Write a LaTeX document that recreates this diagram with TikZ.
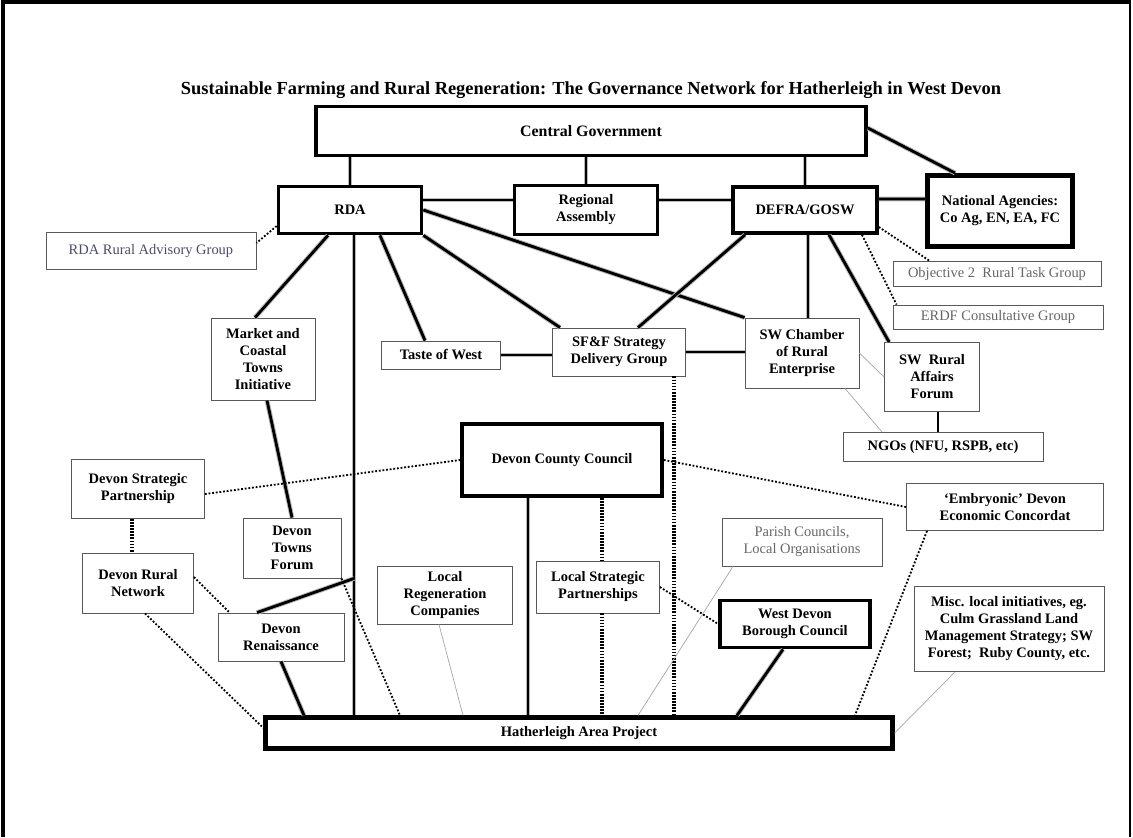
\documentclass[tikz,border=0pt]{standalone}
\usepackage{fontspec}
\setmainfont{Liberation Serif}
\usepackage{xcolor}
\usepackage{tikz}
\usetikzlibrary{positioning}

\definecolor{softtext}{rgb}{0.30,0.30,0.40}
\definecolor{greytext}{rgb}{0.40,0.40,0.42}
\definecolor{boxline}{rgb}{0.35,0.35,0.35}

\begin{document}
\begin{tikzpicture}[
        node distance=2cm,
        % Node styles
        govbox/.style={rectangle, draw=black, line width=2.6pt, inner sep=2pt, align=center,
                       font=\fontsize{10.3}{12.1}\selectfont\bfseries},
        body/.style={rectangle, draw=boxline, line width=0.6pt, inner sep=2pt, align=center,
                     font=\fontsize{10.3}{12.1}\selectfont\bfseries},
        minor/.style={rectangle, draw=boxline, line width=0.6pt, inner sep=2pt, align=center,
                      text=softtext, font=\fontsize{10.3}{12.1}\selectfont},
        % Link styles
        strong/.style={line width=2pt, preaction={draw=gray!55, line width=3.4pt}},
        twin/.style={line width=1.3pt, preaction={draw=gray!55, line width=2.6pt}},
        faint/.style={draw=gray!70, line width=0.5pt},
        dotlink/.style={line width=1.3pt, dash pattern=on 1.3pt off 1.3pt},
        heavydots/.style={line width=2.6pt, dash pattern=on 1.2pt off 1pt}
    ]
        % Page frame
        \useasboundingbox (-14.775,-17.65) rectangle (13.55,3.275);
        \draw[line width=2.2pt] (-14.7,-17.65) -- (-14.7,3.225) -- (13.475,3.225);
        \draw[line width=0.9pt] (13.475,3.275) -- (13.475,-17.65);

        % National and regional level
        \node[govbox, minimum width=13.75cm, minimum height=1.225cm, font=\fontsize{11.3}{13}\selectfont\bfseries] (cg) {Central Government};
        \node[above of=cg, yshift=-0.975cm, font=\fontsize{13.1}{15}\selectfont\bfseries] (title) {Sustainable Farming and Rural Regeneration: The Governance Network for Hatherleigh in West Devon};
        \node[govbox, below of=cg, xshift=-6.025cm, yshift=0.025cm, minimum width=3.575cm, minimum height=1.175cm] (rda) {RDA};
        \node[govbox, right of=rda, xshift=3.9cm, minimum width=3.575cm, minimum height=1.225cm] (ra) {Regional\\Assembly};
        \node[govbox, right of=ra, xshift=3.475cm, minimum width=3.6cm, minimum height=1.15cm] (defra) {DEFRA/GOSW};
        \node[govbox, line width=3.5pt, right of=defra, xshift=2.875cm, yshift=-0.025cm, minimum width=3.625cm, minimum height=1.775cm] (natag) {National Agencies:\\Co Ag, EN, EA, FC};
        \node[minor, left of=rda, xshift=-2.975cm, yshift=-1.025cm, minimum width=5.25cm, minimum height=0.925cm] (ruraladv) {RDA Rural Advisory Group};
        \node[minor, text=greytext, below of=natag, xshift=-0.075cm, yshift=0.425cm, minimum width=5.2cm, minimum height=0.625cm] (obj2) {Objective 2\ \ Rural Task Group};
        \node[minor, text=greytext, below of=obj2, xshift=0.025cm, yshift=0.925cm, minimum width=5.25cm, minimum height=0.6cm] (erdf) {ERDF Consultative Group};

        % Delivery bodies
        \node[body, below of=rda, xshift=-2.175cm, yshift=-1.725cm, minimum width=2.6cm, minimum height=2.05cm] (mcti) {Market and\\Coastal\\Towns\\Initiative};
        \node[body, below of=rda, xshift=2.275cm, yshift=-1.625cm, minimum width=2.975cm, minimum height=0.7cm] (taste) {Taste of West};
        \node[body, right of=taste, xshift=2.45cm, yshift=0.075cm, minimum width=3.325cm, minimum height=1.2cm] (sff) {SF\&F Strategy\\Delivery Group};
        \node[body, right of=sff, xshift=2.575cm, yshift=-0.025cm, minimum width=2.85cm, minimum height=1.75cm] (chamber) {SW Chamber\\of Rural\\Enterprise};
        \node[body, right of=chamber, xshift=1.25cm, yshift=-0.6cm, minimum width=2.375cm, minimum height=1.725cm] (affairs) {SW\ \ Rural\\Affairs\\Forum};
        \node[body, below of=affairs, xshift=0.275cm, yshift=0.25cm, minimum width=5cm, minimum height=0.725cm] (ngo) {NGOs (NFU, RSPB, etc)};

        % County and local level
        \node[govbox, below of=sff, xshift=-1.425cm, yshift=-0.7cm, minimum width=5cm, minimum height=1.8cm] (dcc) {Devon County Council};
        \node[body, left of=dcc, xshift=-8.6cm, yshift=-0.725cm, minimum width=3.325cm, minimum height=1.475cm] (dsp) {Devon Strategic\\Partnership};
        \node[body, below of=dsp, yshift=-0.35cm, minimum width=2.775cm, minimum height=1.5cm] (drn) {Devon Rural\\Network};
        \node[body, below of=mcti, xshift=0.725cm, yshift=-2.725cm, minimum width=2.45cm, minimum height=1.5cm] (towns) {Devon\\Towns\\Forum};
        \node[body, below of=towns, xshift=-0.275cm, yshift=-0.225cm, minimum width=3.15cm, minimum height=1.2cm] (renaiss) {Devon\\Renaissance};
        \node[body, below of=dcc, xshift=-2.925cm, yshift=-1.375cm, minimum width=3.375cm, minimum height=1.45cm] (lrc) {Local\\Regeneration\\Companies};
        \node[body, below of=dcc, xshift=0.9cm, yshift=-1.175cm, minimum width=3.075cm, minimum height=1.3cm] (lsp) {Local Strategic\\Partnerships};
        \node[minor, text=greytext, below of=chamber, yshift=-2.725cm, minimum width=4cm, minimum height=1.2cm] (parish) {Parish Councils,\\Local Organisations};
        \node[govbox, below of=parish, xshift=-0.175cm, yshift=-0.05cm, minimum width=3.75cm, minimum height=1.175cm] (wdbc) {West Devon\\Borough Council};
        \node[body, below of=ngo, xshift=1.55cm, yshift=0.5cm, minimum width=4.925cm, minimum height=1.175cm] (embryo) {`Embryonic' Devon\\Economic Concordat};
        \node[body, below of=embryo, xshift=0.1cm, yshift=-1.05cm, minimum width=4.75cm, minimum height=2.125cm] (misc) {Misc. local initiatives, eg.\\Culm Grassland Land\\Management Strategy; SW\\Forest;\ \ Ruby County, etc.};
        \node[govbox, line width=3pt, below of=lsp, xshift=-0.475cm, yshift=-1.65cm, minimum width=15.675cm, minimum height=0.775cm] (hap) {Hatherleigh Area Project};

        % Links from central government
        \draw[strong] (rda.north |- cg.south) -- (rda.north);
        \draw[strong] (ra.north |- cg.south) -- (ra.north);
        \draw[strong] (defra.north |- cg.south) -- (defra.north);
        \draw[strong] ([yshift=0.075cm]cg.east) -- ([xshift=-1.125cm]natag.north);

        % Regional row
        \draw[strong] ([yshift=0.25cm]rda.east) -- ([yshift=0.25cm]ra.west);
        \draw[strong] ([yshift=0.25cm]ra.east) -- ([yshift=0.25cm]defra.west);
        \draw[strong] ([yshift=0.275cm]defra.east) -- ([yshift=0.3cm]natag.west);
        \draw[dotlink] ([yshift=-0.4cm]rda.west) -- ([yshift=0.2cm]ruraladv.east);
        \draw[dotlink] ([yshift=-0.425cm]defra.east) -- ([xshift=-1.675cm]obj2.north);
        \draw[dotlink] ([xshift=1.425cm]defra.south) -- ([xshift=0.1cm]erdf.north west);

        % RDA and DEFRA down to delivery bodies
        \draw[strong] ([xshift=-0.55cm]rda.south) -- ([xshift=-0.2cm]mcti.north);
        \draw[strong] ([xshift=0.1cm]rda.south) -- ([xshift=0.1cm]rda.south |- hap.north);
        \draw[strong] ([xshift=0.75cm]rda.south) -- ([xshift=-0.4cm]taste.north);
        \draw[strong] (rda.south east) -- ([xshift=0.2cm]sff.north west);
        \draw[strong] (rda.east) -- (chamber.north west);
        \draw[strong] ([xshift=-1.5cm]defra.south) -- ([xshift=0.475cm]sff.north);
        \draw[strong] ([xshift=0.075cm]defra.south) -- ([xshift=0.075cm]defra.south |- chamber.north);
        \draw[strong] ([xshift=0.6cm]defra.south) -- ([xshift=0.125cm]affairs.north west);

        % Middle row
        \draw[strong] (taste.east) -- (taste.east -| sff.west);
        \draw[strong] (sff.east) -- (sff.east -| chamber.west);
        \draw[faint] (chamber.east) -- (affairs.west);
        \draw[faint] ([xshift=1.075cm]chamber.south) -- ([xshift=-1.525cm]ngo.north);
        \draw[line width=0.8pt] ([xshift=0.15cm]affairs.south) -- ([xshift=0.15cm]affairs.south |- ngo.north);
        \draw[heavydots] ([xshift=1.375cm]sff.south) -- ([xshift=1.375cm]sff.south |- hap.north);
        \draw[strong] ([xshift=0.1cm]mcti.south) -- (towns.north);

        % County level
        \draw[dotlink] ([yshift=-0.125cm]dsp.east) -- (dcc.west);
        \draw[dotlink] (dcc.east) -- (embryo.west);
        \draw[heavydots] ([xshift=-0.15cm]dsp.south) -- ([xshift=-0.15cm]dsp.south |- drn.north);
        \draw[dotlink] ([yshift=0.15cm]drn.east) -- ([xshift=0.3cm]renaiss.north west);
        \coordinate (join) at ([xshift=0.1cm]rda.south |- towns.south);
        \draw[strong] ([xshift=-0.6cm]renaiss.north) -- (join);
        \draw[twin] ([xshift=-0.85cm]dcc.south) -- ([xshift=-0.85cm]dcc.south |- hap.north);
        \draw[heavydots] ([xshift=1cm]dcc.south) -- ([xshift=1cm]dcc.south |- lsp.north);
        \draw[dotlink] (lsp.east) -- (wdbc.west);

        % Down to the Hatherleigh project
        \draw[dotlink] ([xshift=0.175cm]drn.south) -- ([yshift=0.125cm]hap.west);
        \draw[strong] (renaiss.south) -- ([xshift=-6.875cm]hap.north);
        \draw[dotlink] (towns.south east) -- ([xshift=-4.475cm]hap.north);
        \draw[faint] ([xshift=-0.15cm]lrc.south) -- ([xshift=-2.9cm]hap.north);
        \draw[heavydots] ([xshift=0.1cm]lsp.south) -- ([xshift=0.1cm]lsp.south |- hap.north);
        \draw[faint] ([xshift=-1.725cm]parish.south) -- ([xshift=1.475cm]hap.north);
        \draw[strong] ([xshift=-0.3cm]wdbc.south) -- ([xshift=3.95cm]hap.north);
        \draw[dotlink] ([xshift=-1.95cm]embryo.south) -- ([xshift=6.9cm]hap.north);
        \draw[faint] ([xshift=-1.35cm]misc.south) -- (hap.east);
    \end{tikzpicture}
\end{document}
